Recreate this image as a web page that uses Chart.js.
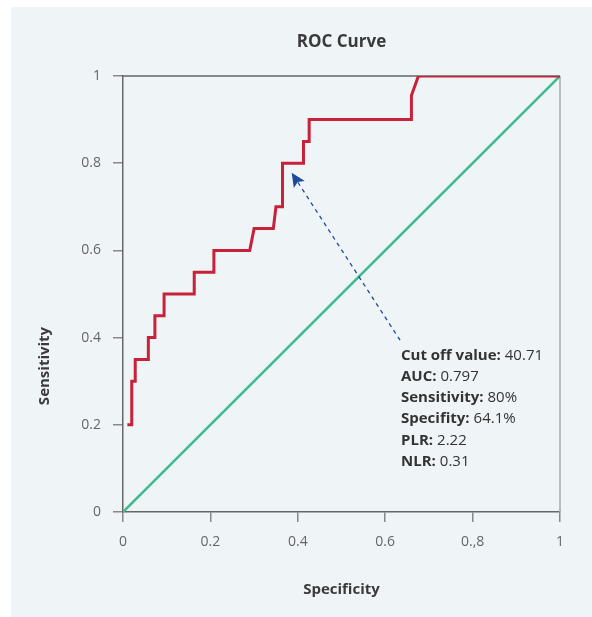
<!DOCTYPE html>
<html><head><meta charset="utf-8">
<script src="https://cdn.jsdelivr.net/npm/chart.js@4"></script>
<style>html,body{margin:0;padding:0;background:#fff;} #wrap{position:absolute;left:0;top:0;width:592px;height:617px;}</style>
</head><body><div id="wrap"><canvas id="c" width="592" height="617"></canvas></div>
<script>
// ROC curve (x = specificity axis, y = sensitivity)
const specificity = [0.010, 0.020, 0.020, 0.028, 0.028, 0.058, 0.058, 0.073, 0.073, 0.094, 0.094, 0.163, 0.163, 0.208, 0.208, 0.290, 0.300, 0.344, 0.350, 0.365, 0.365, 0.413, 0.413, 0.426, 0.426, 0.660, 0.660, 0.676, 1.000];
const sensitivity = [0.200, 0.200, 0.300, 0.300, 0.350, 0.350, 0.400, 0.400, 0.450, 0.450, 0.500, 0.500, 0.550, 0.550, 0.600, 0.600, 0.650, 0.650, 0.700, 0.700, 0.800, 0.800, 0.850, 0.850, 0.900, 0.900, 0.955, 1.000, 1.000];
const diagonalX = [0, 1];
const diagonalY = [0, 1];
const arrowX = [0.634, 0.386];
const arrowY = [0.394, 0.778];
const xTickLabels = ["0", "0.2", "0.4", "0.6", "0.,8", "1"];
const yTickLabels = ["0", "0.2", "0.4", "0.6", "0.8", "1"];
const statLabels = ["Cut off value:", "AUC:", "Sensitivity:", "Specifity:", "PLR:", "NLR:"];
const statValues = ["40.71", "0.797", "80%", "64.1%", "2.22", "0.31"];

const FONT = "'Open Sans', 'Noto Sans', sans-serif";

const panelPlugin = {
  id: 'panel',
  beforeDraw(chart) {
    const ctx = chart.ctx;
    ctx.save();
    ctx.fillStyle = '#eff4f7';
    ctx.beginPath();
    if (ctx.roundRect) ctx.roundRect(11, 7, 592 - 11, 617 - 7, [4, 0, 0, 0]);
    else ctx.rect(11, 7, 592 - 11, 617 - 7);
    ctx.fill();
    ctx.restore();
  }
};

const framePlugin = {
  id: 'frame',
  beforeDatasetsDraw(chart) {
    const {ctx, chartArea: a} = chart;
    ctx.save();
    ctx.lineWidth = 1.5;
    ctx.strokeStyle = '#aaaaaa';
    ctx.beginPath(); ctx.moveTo(a.right, a.top); ctx.lineTo(a.right, a.bottom); ctx.stroke();
    ctx.strokeStyle = '#666666';
    ctx.beginPath(); ctx.moveTo(a.left, a.top); ctx.lineTo(a.right, a.top); ctx.stroke();
    ctx.restore();
  },
  afterDraw(chart) {
    const {ctx, chartArea: a} = chart;
    ctx.save();
    ctx.translate(45, a.bottom - 146);
    ctx.rotate(-Math.PI / 2);
    ctx.font = "bold 15px " + FONT;
    ctx.fillStyle = '#3a3a3a';
    ctx.textAlign = 'center';
    ctx.textBaseline = 'middle';
    ctx.fillText('Sensitivity', 0, 0);
    ctx.restore();
  }
};

const arrowPlugin = {
  id: 'arrowHead',
  afterDatasetsDraw(chart) {
    const meta = chart.getDatasetMeta(2);
    const p0 = meta.data[0], p1 = meta.data[1];
    const ang = Math.atan2(p1.y - p0.y, p1.x - p0.x);
    const ctx = chart.ctx;
    ctx.save();
    ctx.translate(p1.x, p1.y);
    ctx.rotate(ang);
    ctx.fillStyle = '#1d4a9a';
    ctx.beginPath();
    ctx.moveTo(0, 0);
    ctx.lineTo(-14, -6.5);
    ctx.lineTo(-11, 0);
    ctx.lineTo(-14, 6.5);
    ctx.closePath();
    ctx.fill();
    ctx.restore();
  }
};

const statsPlugin = {
  id: 'stats',
  afterDraw(chart) {
    const {ctx, chartArea: a} = chart;
    ctx.save();
    ctx.textBaseline = 'middle';
    ctx.fillStyle = '#333333';
    const x0 = a.left + 278;
    const y0 = a.top + 279.5;
    statLabels.forEach((lab, i) => {
      const y = y0 + i * 21.2;
      ctx.font = "bold 15px " + FONT;
      ctx.fillText(lab, x0, y);
      const w = ctx.measureText(lab).width;
      ctx.font = "15px " + FONT;
      ctx.fillText(statValues[i], x0 + w + 4, y);
    });
    ctx.restore();
  }
};

const pts = (xs, ys) => xs.map((x, i) => ({x: x, y: ys[i]}));

new Chart(document.getElementById('c'), {
  type: 'scatter',
  data: {
    datasets: [
      {data: pts(specificity, sensitivity), showLine: true, borderColor: '#c8213a', borderWidth: 3, pointRadius: 0, tension: 0, order: 1},
      {data: pts(diagonalX, diagonalY), showLine: true, borderColor: '#3dba8e', borderWidth: 2.5, pointRadius: 0, order: 2},
      {data: pts(arrowX, arrowY), showLine: true, borderColor: '#1d4a9a', borderWidth: 1.3, borderDash: [4, 4], pointRadius: 0, order: 0}
    ]
  },
  options: {
    responsive: false,
    animation: false,
    layout: {padding: {top: 0, right: 32, bottom: 0, left: 0}},
    plugins: {
      legend: {display: false},
      tooltip: {enabled: false},
      title: {display: true, text: 'ROC Curve', fullSize: false, color: '#3a3a3a',
        font: {family: FONT, size: 17, weight: 'bold'}, padding: {top: 31.8, bottom: 23.8}}
    },
    scales: {
      x: {
        type: 'linear', min: 0, max: 1,
        ticks: {stepSize: 0.2, autoSkip: false, maxRotation: 0, padding: 12, color: '#666',
          font: {family: FONT, size: 14}, callback: (v, i) => xTickLabels[i]},
        grid: {drawOnChartArea: false, tickLength: 10, color: '#888', lineWidth: 1.5},
        border: {color: '#666', width: 1.5},
        title: {display: true, text: 'Specificity', color: '#3a3a3a',
          font: {family: FONT, size: 15, weight: 'bold'}, padding: {top: 0, bottom: 18}},
        afterFit(s) { s.height = 105; }
      },
      y: {
        type: 'linear', min: 0, max: 1,
        ticks: {stepSize: 0.2, autoSkip: false, padding: 12, color: '#666',
          font: {family: FONT, size: 14}, callback: (v, i) => yTickLabels[i]},
        grid: {drawOnChartArea: false, tickLength: 10, color: '#888', lineWidth: 1.5},
        border: {color: '#666', width: 1.5},
        afterFit(s) { s.width = 123; }
      }
    }
  },
  plugins: [panelPlugin, framePlugin, arrowPlugin, statsPlugin]
});
</script>
</body></html>
